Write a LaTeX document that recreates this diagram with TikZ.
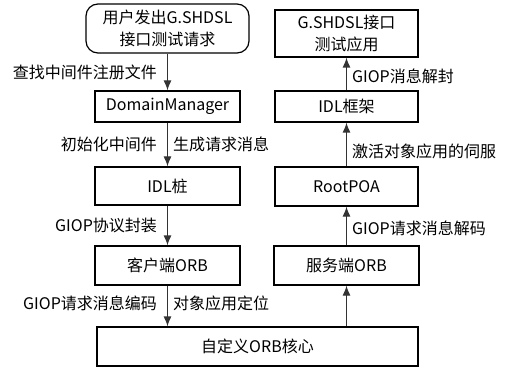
\documentclass[tikz,border=0pt]{standalone}
\usepackage{fontspec}
\setmainfont{Noto Sans CJK SC}
\usetikzlibrary{arrows.meta}

\tikzset{
  block/.style={draw, line width=0.6pt, minimum width=72.5pt, minimum height=19.5pt, inner sep=1pt, align=center},
  flow/.style={-{Latex[length=5pt,width=4pt]}, line width=0.6pt, draw=black!80},
  lableft/.style={midway, left, inner sep=1pt, xshift=-4pt},
  labright/.style={midway, right, inner sep=1pt, xshift=1.5pt}
}

\begin{document}
\begin{tikzpicture}[x=0.5pt,y=-0.5pt,font=\fontsize{8}{11}\selectfont]
	\useasboundingbox[fill=white] (0,0) rectangle (509,369);
	% client side
	\node[block, rounded corners=6pt, minimum width=81.5pt, minimum height=24.5pt] (user) at (167.5,28.5) {用户发出G.SHDSL\\接口测试请求};
	\node[block, minimum height=15.5pt] (dm) at (167.5,106.5) {DomainManager};
	\node[block, minimum height=19pt] (stub) at (167.5,186) {IDL桩};
	\node[block] (corb) at (167.5,265.5) {客户端ORB};
	\node[block, minimum width=160.5pt] (core) at (257.5,346.5) {自定义ORB核心};
	% server side
	\node[block] (sorb) at (346.5,265.5) {服务端ORB};
	\node[block, minimum width=71.5pt] (poa) at (346.5,186.5) {RootPOA};
	\node[block, minimum width=71.5pt, minimum height=15.5pt] (skel) at (346.5,106.5) {IDL框架};
	\node[block, minimum width=71.5pt, minimum height=23.5pt] (app) at (346.5,33.5) {G.SHDSL接口\\测试应用};
	% connectors
	\draw[flow] (user) -- (dm) node[lableft] (l1) {查找中间件注册文件};
	\draw[flow] (dm) -- (stub) node[lableft] (l2) {初始化中间件} node[labright] (l3) {生成请求消息};
	\draw[flow] (stub) -- (corb) node[lableft] (l4) {GIOP协议封装};
	\draw[flow] (corb) -- (corb.south |- core.north) node[lableft, yshift=1.5pt] (l5) {GIOP请求消息编码} node[labright, yshift=1.5pt] (l6) {对象应用定位};
	\draw[flow] (core.north -| sorb) -- (sorb);
	\draw[flow] (sorb) -- (poa) node[labright, yshift=-1pt] (l7) {GIOP请求消息解码};
	\draw[flow] (poa) -- (skel) node[labright, yshift=-3.5pt] (l8) {激活对象应用的伺服};
	\draw[flow] (skel) -- (app) node[labright, yshift=-1pt] (l9) {GIOP消息解封};
\end{tikzpicture}
\end{document}
